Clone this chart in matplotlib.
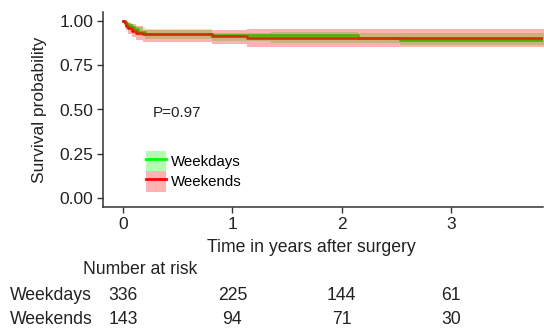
import matplotlib
matplotlib.use("Agg")
import matplotlib.pyplot as plt
import matplotlib.transforms as mtransforms
from matplotlib.patches import Patch
from matplotlib.lines import Line2D
from matplotlib.legend_handler import HandlerTuple

plt.rcParams['font.family'] = ['Liberation Sans', 'DejaVu Sans']

# Kaplan-Meier steps (years, survival, 95% CI)
wd_t = [0, 0.02, 0.04, 0.07, 0.10, 0.14, 0.20, 0.81, 1.35, 2.15, 2.53, 3.85]
wd_s = [1.0, 0.99, 0.978, 0.965, 0.952, 0.94, 0.925, 0.919, 0.919, 0.903, 0.893, 0.893]
wd_lo = [1.0, 0.978, 0.962, 0.946, 0.930, 0.915, 0.898, 0.889, 0.875, 0.874, 0.864, 0.864]
wd_hi = [1.0, 1.0, 0.993, 0.984, 0.973, 0.964, 0.952, 0.934, 0.940, 0.930, 0.930, 0.930]

we_t = [0, 0.015, 0.03, 0.05, 0.08, 0.12, 0.18, 0.81, 1.13, 3.85]
we_s = [1.0, 0.986, 0.972, 0.958, 0.945, 0.934, 0.925, 0.915, 0.902, 0.902]
we_lo = [1.0, 0.967, 0.946, 0.926, 0.908, 0.893, 0.882, 0.870, 0.850, 0.850]
we_hi = [1.0, 1.0, 0.998, 0.990, 0.982, 0.972, 0.946, 0.950, 0.956, 0.956]

groups = ["Weekdays", "Weekends"]
colors = ["#00FF00", "#FF0000"]
risk_times = [0, 1, 2, 3]
risk_wd = [336, 225, 144, 61]
risk_we = [143, 94, 71, 30]
p_text = "P=0.97"

W, H = 544, 332
fig = plt.figure(figsize=(W / 100, H / 100), dpi=100)
ax = fig.add_axes([103 / W, 1 - 207 / H, 440 / W, 195 / H])

curves = [(wd_t, wd_s, wd_lo, wd_hi), (we_t, we_s, we_lo, we_hi)]
for (t, s, lo, hi), c in zip(curves, colors):
    ax.step(t, s, where='post', color=c, lw=1.9, zorder=2)
for (t, s, lo, hi), c in zip(curves, colors):
    ax.fill_between(t, lo, hi, step='post', color=c, alpha=0.3, lw=0, zorder=3)

ax.set_xlim(-0.183, 3.84)
ax.set_ylim(-0.05, 1.05)
ax.set_xticks(risk_times)
ax.set_yticks([0, 0.25, 0.5, 0.75, 1.0])
ax.set_yticklabels(["0.00", "0.25", "0.50", "0.75", "1.00"])
for side in ['top', 'right']:
    ax.spines[side].set_visible(False)
for side in ['left', 'bottom']:
    ax.spines[side].set_color('#333333')
    ax.spines[side].set_linewidth(1.1)
ax.tick_params(colors='#333333', labelcolor='#222222', labelsize=12.5,
               length=4, width=1.0, pad=3)
ax.set_ylabel("Survival probability", fontsize=12.5, color='#222222', labelpad=9)
ax.set_xlabel("Time in years after surgery", fontsize=12.7, color='#222222', labelpad=0)
ax.xaxis.set_label_coords((311 - 103) / 440, -0.165)

ax.text(0.27, 0.48, p_text, fontsize=11, color='#222222', va='center', ha='left')

handles = [(Patch(facecolor=c, alpha=0.3, lw=0), Line2D([], [], color=c, lw=2))
           for c in colors]
ax.legend(handles, groups, handler_map={tuple: HandlerTuple(ndivide=1, pad=0)},
          loc='upper left', bbox_to_anchor=(0.074, 0.34), frameon=False,
          fontsize=10.8, handlelength=1.3, handleheight=1.7,
          handletextpad=0.35, labelspacing=0.0, borderpad=0.2)

# number at risk table
tr = mtransforms.blended_transform_factory(ax.transData, fig.transFigure)
fig.text(83 / W, 1 - 270 / H, "Number at risk", fontsize=12.7, color='#222222',
         va='center', ha='left')
for row, (name, vals) in enumerate(zip(groups, [risk_wd, risk_we])):
    y = 1 - (296 + 23 * row) / H
    fig.text(10 / W, y, name, fontsize=12.7, color='#222222', va='center', ha='left')
    for t, v in zip(risk_times, vals):
        fig.text(t, y, str(v), transform=tr, fontsize=12.7, color='#222222',
                 va='center', ha='center')

fig.savefig("out.png", dpi=100)
